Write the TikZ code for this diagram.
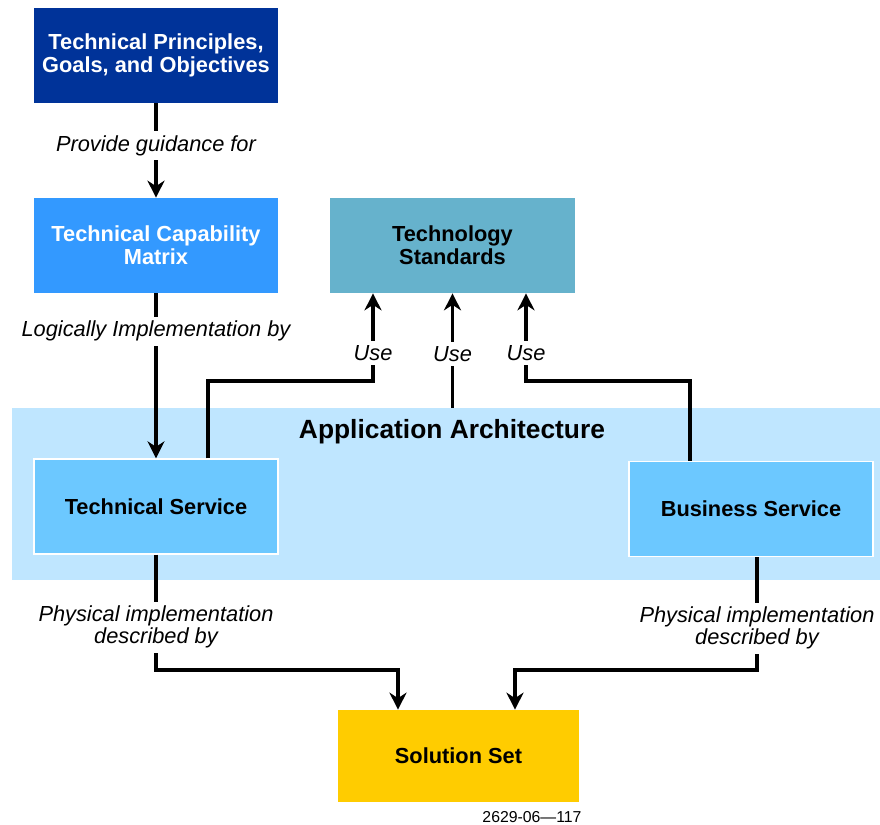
\documentclass[tikz,border=0pt]{standalone}
\usepackage{fontspec}
\setmainfont{Liberation Sans}
\usetikzlibrary{arrows.meta}
\definecolor{navyblue}{RGB}{0,51,153}
\definecolor{capblue}{RGB}{51,153,255}
\definecolor{stdteal}{RGB}{102,178,204}
\definecolor{bandblue}{RGB}{191,230,255}
\definecolor{svcblue}{RGB}{108,200,255}
\definecolor{solyellow}{RGB}{255,204,0}

\begin{document}
\begin{tikzpicture}[x=0.02cm,y=-0.02cm,
  box/.style={minimum width=4.88cm, minimum height=1.9cm, inner sep=0pt, align=center, font=\fontsize{12.4}{13}\selectfont\bfseries},
  svc/.style={box, draw=white, line width=0.8pt, fill=svcblue},
  lbl/.style={fill=white, inner sep=2.5pt, align=center, font=\fontsize{12.4}{12.5}\selectfont\itshape},
  arr/.style={-{Stealth[length=0.34cm,width=0.34cm,inset=0.11cm]}, line width=2pt}]
\useasboundingbox (0,0) rectangle (880,825);
\node[fill=bandblue, minimum width=17.36cm, minimum height=3.44cm, inner sep=0pt] (app) at (446,494) {};
\node[font=\fontsize{15}{17}\selectfont\bfseries] (apptitle) at (452,432) {Application Architecture};
\node[box, fill=navyblue, text=white] (prin) at (156,55.5) {Technical Principles,\\Goals, and Objectives};
\node[box, fill=capblue, text=white] (cap) at (156,245.5) {Technical Capability\\Matrix};
\node[box, minimum width=4.9cm, fill=stdteal] (std) at (452.5,245.5) {Technology\\Standards};
\node[svc] (tech) at (156,506.5) {Technical Service};
\node[svc] (bus) at (751,509) {Business Service};
\node[box, minimum width=4.82cm, minimum height=1.84cm, fill=solyellow] (sol) at (458.5,756) {Solution Set};
\node[font=\fontsize{9}{10}\selectfont] (fig) at (532,817) {2629-06—117};
\coordinate (ul) at (208,381);
\coordinate (ur) at (373,381);
\coordinate (vr) at (690,381);
\coordinate (vl) at (526,381);
\coordinate (pl) at (156,670);
\coordinate (ql) at (398,670);
\coordinate (pr) at (757,670);
\coordinate (qr) at (515,670);
\draw[arr] (prin) -- node[lbl,pos=.45] {Provide guidance for} (cap);
\draw[arr] (cap) -- node[lbl,pos=.23] {Logically Implementation by} (tech);
\draw[arr] (tech.north -| ul) -- (ul) -- (ur) -- node[lbl,pos=.32] {Use} (std.south -| ur);
\draw[arr] (std.south |- app.north) -- node[lbl,pos=.47] {Use} (std.south);
\draw[arr] (bus.north -| vr) -- (vr) -- (vl) -- node[lbl,pos=.32] {Use} (std.south -| vl);
\draw[arr] (tech.south) -- node[lbl,pos=.63] {Physical implementation\\described by} (pl) -- (ql) -- (sol.north -| ql);
\draw[arr] (bus.south -| pr) -- node[lbl,pos=.63] {Physical implementation\\described by} (pr) -- (qr) -- (sol.north -| qr);
\end{tikzpicture}
\end{document}
